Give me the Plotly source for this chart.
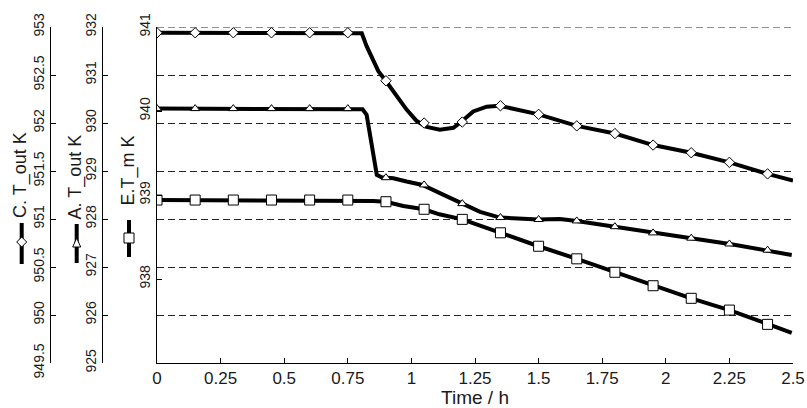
import plotly.graph_objects as go

# ---------------- data ----------------
time_C = [0, 0.805, 0.824, 0.850, 0.870, 0.899, 0.942, 0.981, 1.021, 1.060, 1.112, 1.165, 1.195,
          1.243, 1.296, 1.346, 1.50, 1.65, 1.80, 1.95, 2.10, 2.25, 2.40, 2.50]
val_C = [952.94, 952.935, 952.80, 952.66, 952.54, 952.44, 952.28, 952.14, 952.02, 951.96, 951.93, 951.95, 952.01,
         952.12, 952.17, 952.18, 952.09, 951.97, 951.89, 951.77, 951.69, 951.59, 951.47, 951.40]

time_A = [0, 0.808, 0.824, 0.837, 0.850, 0.864, 0.883, 0.929, 0.981, 1.044, 1.112, 1.20, 1.27, 1.348,
          1.499, 1.584, 1.65, 1.80, 1.951, 2.10, 2.252, 2.403, 2.495]
val_A = [930.30, 930.285, 930.17, 929.79, 929.30, 928.92, 928.87, 928.85, 928.78, 928.71, 928.54, 928.32, 928.15,
         928.03, 927.99, 928.00, 927.96, 927.84, 927.71, 927.60, 927.48, 927.35, 927.25]

time_E = [0, 0.75, 0.85, 0.90, 0.968, 1.05, 1.11, 1.20, 1.346, 1.50, 1.65, 1.80, 1.95, 2.10, 2.25, 2.40, 2.495]
val_E = [938.94, 938.94, 938.93, 938.92, 938.87, 938.83, 938.77, 938.71, 938.55, 938.39, 938.24, 938.08,
         937.92, 937.77, 937.63, 937.46, 937.36]

time_marks = [0, 0.15, 0.3, 0.45, 0.6, 0.75, 0.9, 1.05, 1.2, 1.35, 1.5, 1.65, 1.8, 1.95, 2.1, 2.25, 2.4]
mark_C = [952.94, 952.94, 952.94, 952.94, 952.94, 952.94, 952.44, 952.00, 952.01, 952.18, 952.09,
          951.97, 951.89, 951.77, 951.69, 951.59, 951.47]
mark_A = [930.30, 930.30, 930.30, 930.30, 930.30, 930.30, 928.86, 928.71, 928.32, 928.03, 927.99,
          927.96, 927.84, 927.71, 927.60, 927.48, 927.35]
mark_E = [938.94, 938.94, 938.94, 938.94, 938.94, 938.94, 938.92, 938.83, 938.71, 938.55, 938.39,
          938.24, 938.08, 937.92, 937.77, 937.63, 937.46]

x_ticks = [0, 0.25, 0.5, 0.75, 1, 1.25, 1.5, 1.75, 2, 2.25, 2.5]
x_ticktext = ["0", "0.25", "0.5", "0.75", "1", "1.25", "1.5", "1.75", "2", "2.25", "2.5"]
E_ticks = [938, 939, 940, 941]
A_ticks = [925, 926, 927, 928, 929, 930, 931, 932]
C_ticks = [949.5, 950, 950.5, 951, 951.5, 952, 952.5, 953]
C_ticktext = ["949.5", "950", "950.5", "951", "951.5", "952", "952.5", "953"]

titles = ["C. T_out K", "A. T_out K", "E.T_m K"]

# ---------------- layout helpers ----------------
W, H = 807, 408
ML, MR, MT, MB = 0, 14, 27, 45
PW, PH = W - ML - MR, H - MT - MB


def px(x):
    return (x - ML) / PW


def py(y):
    return (H - MB - y) / PH


FONT = "Liberation Sans, Arial, sans-serif"
TXT = "#1a1a1a"
LW = 4
GRID_DASH = "7px,4px"

fig = go.Figure()

fig.add_trace(go.Scatter(x=time_C, y=val_C, yaxis="y3", mode="lines",
                         line=dict(color="black", width=LW), showlegend=False, hoverinfo="skip"))
fig.add_trace(go.Scatter(x=time_marks, y=mark_C, yaxis="y3", mode="markers",
                         marker=dict(symbol="diamond", size=8, color="white",
                                     line=dict(color="black", width=1)), showlegend=False))
fig.add_trace(go.Scatter(x=time_A, y=val_A, yaxis="y2", mode="lines",
                         line=dict(color="black", width=LW), showlegend=False, hoverinfo="skip"))
fig.add_trace(go.Scatter(x=time_marks, y=mark_A, yaxis="y2", mode="markers",
                         marker=dict(symbol="triangle-up", size=8, color="white",
                                     line=dict(color="black", width=1)), showlegend=False))
fig.add_trace(go.Scatter(x=time_E, y=val_E, yaxis="y", mode="lines",
                         line=dict(color="black", width=LW), showlegend=False, hoverinfo="skip"))
fig.add_trace(go.Scatter(x=time_marks, y=mark_E, yaxis="y", mode="markers",
                         marker=dict(symbol="square", size=10, color="white",
                                     line=dict(color="black", width=1)), showlegend=False))

axis_common = dict(showline=True, linecolor="black", linewidth=1, ticks="inside", ticklen=5,
                   tickcolor="black", tickangle=-90, automargin=False, zeroline=False,
                   tickfont=dict(family=FONT, size=14, color=TXT))

fig.update_layout(
    width=W, height=H, template=None,
    margin=dict(l=ML, r=MR, t=MT, b=MB),
    paper_bgcolor="white", plot_bgcolor="white",
    showlegend=False,
    xaxis=dict(domain=[px(157), 1], range=[0, 2.5], showline=True, linecolor="black", linewidth=1,
               ticks="inside", ticklen=5, tickcolor="black", tickvals=x_ticks, ticktext=x_ticktext,
               showgrid=False, zeroline=False, automargin=False,
               tickfont=dict(family=FONT, size=17, color=TXT),
               title=dict(text="Time / h", font=dict(family=FONT, size=19, color=TXT), standoff=2)),
    yaxis=dict(range=[937, 941], tickvals=E_ticks, showgrid=False, anchor="x", side="left",
               **axis_common),
    yaxis2=dict(range=[925, 932], tickvals=A_ticks, overlaying="y", anchor="free",
                position=px(102), side="left", showgrid=True, gridcolor="#222", gridwidth=1,
                griddash=GRID_DASH, **axis_common),
    yaxis3=dict(range=[949.5, 953], tickvals=C_ticks, ticktext=C_ticktext, overlaying="y",
                anchor="free", position=px(50), side="left", showgrid=False, **axis_common),
)

# top gridline (at the upper range end, which plotly does not draw)
fig.add_shape(type="line", xref="x", yref="y2", x0=0, x1=2.5, y0=A_ticks[-1], y1=A_ticks[-1],
              line=dict(color="#222", width=1, dash=GRID_DASH), layer="below")

# axis titles (rotated)
title_pos = [(20, 175), (74.5, 177), (127.5, 171)]
for t, (tx, ty) in zip(titles, title_pos):
    fig.add_annotation(text=t, x=px(tx), y=py(ty), xref="paper", yref="paper", showarrow=False,
                       textangle=-90, font=dict(family=FONT, size=18, color=TXT),
                       xanchor="center", yanchor="middle")

# legend symbols next to titles
sym = [(21.7, 223, 264, 242, "diamond"), (76.7, 224, 263, 243, "triangle"), (129, 220, 257, 238, "square")]
for (sx, y0, y1, yc, kind) in sym:
    fig.add_shape(type="line", xref="paper", yref="paper", x0=px(sx), x1=px(sx), y0=py(y0), y1=py(y1),
                  line=dict(color="black", width=LW))
    if kind == "diamond":
        d = 5
        path = (f"M {px(sx)},{py(yc - d)} L {px(sx + d)},{py(yc)} L {px(sx)},{py(yc + d)} "
                f"L {px(sx - d)},{py(yc)} Z")
    elif kind == "triangle":
        d = 4
        path = (f"M {px(sx)},{py(yc - d - 1)} L {px(sx + d)},{py(yc + d)} L {px(sx - d)},{py(yc + d)} Z")
    else:
        d = 5
        path = (f"M {px(sx - d)},{py(yc - d)} L {px(sx + d)},{py(yc - d)} L {px(sx + d)},{py(yc + d)} "
                f"L {px(sx - d)},{py(yc + d)} Z")
    fig.add_shape(type="path", xref="paper", yref="paper", path=path, fillcolor="white",
                  line=dict(color="black", width=1))

fig.write_html("out.html", config={"displayModeBar": False},
               post_script="document.body.style.margin='0';document.body.style.overflow='hidden';")
